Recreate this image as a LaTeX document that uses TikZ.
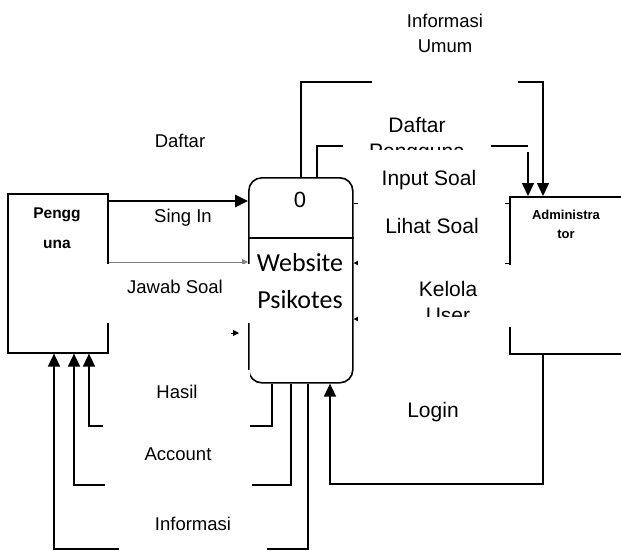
\documentclass[tikz,border=0pt]{standalone}
\usepackage{fontspec}
\setmainfont{Liberation Sans}
\newfontfamily\prosesfont{Carlito}
\usetikzlibrary{arrows.meta,positioning}

\tikzset{
  entitas/.style = {draw, line width=1.6pt, shape=rectangle, anchor=north west, inner sep=0pt},
  proses/.style = {draw, line width=1.6pt, shape=rectangle, rounded corners=13pt, anchor=north west, inner sep=0pt},
  aliran/.style = {line width=1.6pt},
  panah/.style = {aliran, -{Triangle[length=13pt,width=12pt]}},
  tipis/.style = {line width=0.9pt},
  panah kecil/.style = {tipis, -{Triangle[length=6pt,width=6pt]}},
  tutup/.style = {fill=white},
  teks kecil/.style = {font=\fontsize{18.5}{25}\selectfont, align=center, inner sep=0pt},
  teks besar/.style = {font=\fontsize{21}{26}\selectfont, align=center, inner sep=0pt},
}

\begin{document}
\begin{tikzpicture}[x=1pt, y=-1pt]
\clip (0,0) rectangle (621,550);

% entitas dan proses
\node[entitas, minimum width=100pt, minimum height=159pt] (pengguna) at (7,193) {};
\node[entitas, minimum width=140pt, minimum height=157pt] (admin) at (509,196) {};
\node[proses, minimum width=104pt, minimum height=205pt] (sistem) at (248,177) {};

% titik bantu
\coordinate (y-bagi) at (0,238);
\coordinate (y-masuk) at (0,201);
\coordinate (y-jawab) at (0,262);
\coordinate (y-input) at (0,203);
\coordinate (y-lihat) at (0,263);
\coordinate (y-kelola) at (0,319);
\coordinate (umum-atas) at (0,82);
\coordinate (x-umum) at (301,0);
\coordinate (x-daftar) at (317,0);
\coordinate (x-hasil) at (272,0);
\coordinate (x-account) at (291,0);
\coordinate (x-info) at (308,0);
\coordinate (x-admin) at (543,0);
\coordinate (daftar-ujung) at (528,146);
\coordinate (daftar-mulai) at (528,152);
\coordinate (hasil-sudut) at (89,426);
\coordinate (account-sudut) at (74,485);
\coordinate (info-sudut) at (54,549);
\coordinate (login-sudut) at (330,484);
\coordinate (sisa-panah) at (231,333);

\draw[aliran] (sistem.west |- y-bagi) -- (sistem.east |- y-bagi);

% aliran data
\draw[panah] (sistem.north -| x-umum) |- (x-admin |- umum-atas) -- (admin.north -| x-admin);
\draw[aliran] (sistem.north -| x-daftar) |- (daftar-ujung);
\draw[panah] (daftar-mulai) -- (admin.north -| daftar-mulai);
\draw[panah, line width=2.6pt] (pengguna.east |- y-masuk) -- (sistem.west |- y-masuk);
\draw[panah kecil, gray] (pengguna.east |- y-jawab) -- (sistem.west |- y-jawab);
\draw[panah kecil] (sisa-panah) -- ++(8,0);
\draw[tipis] (sistem.east |- y-input) -- (admin.west |- y-input);
\draw[panah kecil] (admin.west |- y-lihat) -- (sistem.east |- y-lihat);
\draw[panah kecil] (admin.west |- y-kelola) -- (sistem.east |- y-kelola);
\draw[panah] (sistem.south -| x-hasil) |- (hasil-sudut) -- (pengguna.south -| hasil-sudut);
\draw[panah] (sistem.south -| x-account) |- (account-sudut) -- (pengguna.south -| account-sudut);
\draw[panah] (sistem.south -| x-info) |- (info-sudut) -- (pengguna.south -| info-sudut);
\draw[panah] (admin.south -| x-admin) |- (login-sudut) -- (sistem.south -| login-sudut);

% label aliran
\fill[tutup] (372,0) rectangle (518,100);
\node[teks kecil] (umum) at (445,33) {Informasi\\Umum};
\fill[tutup] (343,108) rectangle (491,150);
\node[teks besar] (daftar-pengguna) at (417,140) {Daftar\\Pengguna};
\fill[tutup] (358,150) rectangle (505,265);
\node[teks besar, anchor=base] (input) at (429,185) {Input Soal};
\node[teks besar, anchor=base] (lihat) at (432,233) {Lihat Soal};
\fill[tutup] (358,265) rectangle (512,327);
\begin{scope}
\clip (358,265) rectangle (512,316);
\node[teks besar] (kelola) at (448,302) {Kelola\\User};
\end{scope}
\fill[tutup] (105.5,263.5) rectangle (250,323);
\node[teks kecil, anchor=base] (jawab) at (175,293) {Jawab Soal};
\node[teks kecil, anchor=base] (daftar) at (180,147) {Daftar};
\node[teks kecil, anchor=base] (masuk) at (183,222) {Sing In};
\fill[tutup] (103,370) rectangle (250,440);
\fill[tutup] (105,440) rectangle (252,495);
\fill[tutup] (119,500) rectangle (267,551);
\node[teks kecil, anchor=base] (hasil) at (177,398) {Hasil};
\node[teks kecil, anchor=base] (account) at (178,460) {Account};
\node[teks kecil, anchor=base] (informasi) at (193,530) {Informasi};
\node[teks besar, anchor=base] (login) at (433,417) {Login};

% nama entitas dan proses
\node[font=\bfseries\fontsize{15.5}{30}\selectfont, align=center, inner sep=0pt] (pengguna-nama) at (57,228) {Pengg\\una};
\node[font=\bfseries\fontsize{13}{19}\selectfont, align=center, inner sep=0pt] (admin-nama) at (566,224) {Administra\\tor};
\node[font=\fontsize{22}{26}\selectfont, inner sep=0pt, anchor=base] (nomor) at (300,207) {0};
\node[font=\prosesfont\fontsize{26}{37}\selectfont, align=center, inner sep=0pt] (nama-sistem) at (300,281) {Website\\Psikotes};
\end{tikzpicture}
\end{document}
